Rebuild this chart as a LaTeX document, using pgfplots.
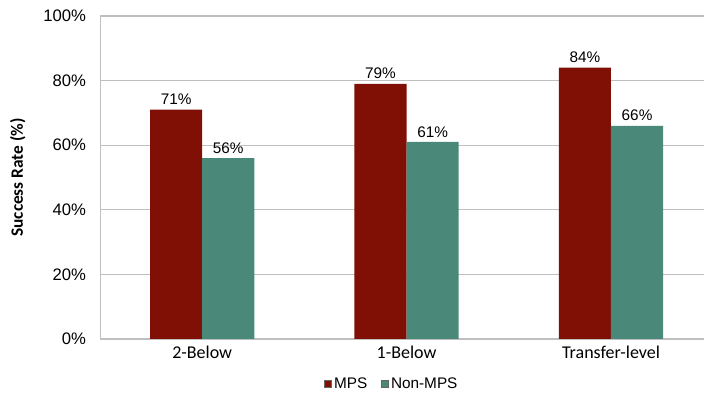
\documentclass[border=0pt]{standalone}
\usepackage{pgfplots}
\pgfplotsset{compat=1.18}
\usepackage{fontspec}
\setmainfont{Liberation Sans}
\newfontfamily\carlito{Carlito}
\definecolor{mps}{RGB}{128,15,5}
\definecolor{nonmps}{RGB}{74,136,122}
\definecolor{gridc}{RGB}{191,191,191}
\newcommand{\fs}{\fontsize{12.5}{15}\selectfont}
\newcommand{\fss}{\fontsize{11.5}{14}\selectfont}
\begin{document}
\begin{tikzpicture}
\useasboundingbox (-75pt,-42.75pt) rectangle (453pt,254.25pt);
\begin{axis}[
  at={(0,0)}, anchor=south west,
  scale only axis, width=453pt, height=242.25pt,
  ymin=0, ymax=100, ytick={0,20,...,100},
  yticklabel={\fs\pgfmathprintnumber{\tick}\%},
  /pgf/number format/assume math mode=true,
  xmin=-0.5, xmax=2.455,
  xtick={0,1,2}, xticklabels={{\carlito\fontsize{13.5}{16}\selectfont 2-Below},{\carlito\fontsize{13.5}{16}\selectfont 1-Below},{\carlito\fontsize{13.5}{16}\selectfont Transfer-level}},
  x tick label style={yshift=-2pt},
  y tick label style={xshift=-7pt},
  axis x line=bottom, axis y line=left,
  axis line style={gridc, -}, major tick length=0pt,
  ymajorgrids, grid style={gridc, line width=0.8pt},
  ylabel={\carlito\bfseries\fontsize{13}{15}\selectfont Success Rate (\%)},
  ylabel style={at={(axis description cs:-0.136,0.5)}, anchor=center},
  ybar, bar width=0.255,
  nodes near coords={\fss\pgfmathprintnumber{\pgfplotspointmeta}\%},
  nodes near coords style={yshift=0pt},
  legend style={at={(0.4835,-0.139)}, anchor=center, draw=none, legend columns=2,
    font=\fss, /tikz/every even column/.append style={column sep=8pt},
    inner sep=0pt},
  legend image code/.code={\draw[#1, draw=black!60, line width=0.3pt] (0pt,-2.7pt) rectangle (5.4pt,2.7pt);},
]
\addplot[fill=mps, draw=none, bar shift=-0.1275] coordinates {(0,71) (1,79) (2,84)};
\addplot[fill=nonmps, draw=none, bar shift=0.1275] coordinates {(0,56) (1,61) (2,66)};
\legend{MPS,Non-MPS}
\end{axis}
\end{tikzpicture}
\end{document}
